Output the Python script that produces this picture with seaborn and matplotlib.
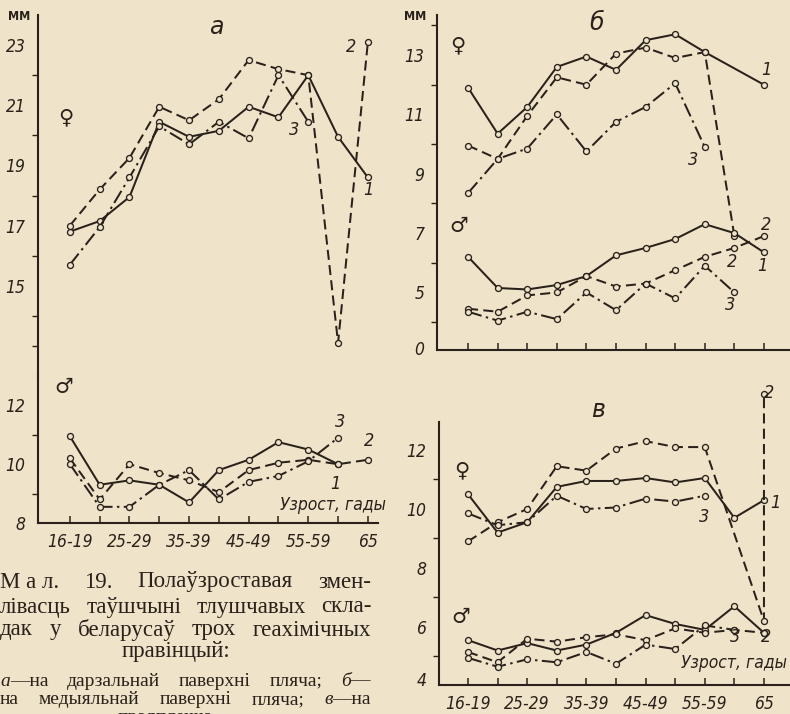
import numpy as np
import pandas as pd
import matplotlib
matplotlib.use("Agg")
import matplotlib.pyplot as plt
from matplotlib.font_manager import FontProperties
import seaborn as sns

# ---------------- data ----------------
AGES = ["16-19", "20-24", "25-29", "30-34", "35-39", "40-44",
        "45-49", "50-54", "55-59", "60-64", "65"]
XTICK_LABELS = ["16-19", "", "25-29", "", "35-39", "", "45-49", "", "55-59", "", "65"]

# panel a (dorsal surface of shoulder)
a_f1 = [16.8, 17.15, 17.95, 20.45, 19.95, 20.15, 20.95, 20.6, 22.0, 19.95, 18.6]
a_f2 = [17.0, 18.2, 19.25, 20.95, 20.5, 21.2, 22.5, 22.2, 22.0, 13.1, 23.1]
a_f3 = [15.7, 16.95, 18.6, 20.3, 19.7, 20.45, 19.9, 22.0, 20.45, None, None]
a_m1 = [10.95, 9.3, 9.45, 9.3, 8.7, 9.8, 10.15, 10.75, 10.5, 10.0, None]
a_m2 = [10.2, 8.8, 10.0, 9.7, 9.45, 9.05, 9.8, 10.05, 10.15, 10.0, 10.15]
a_m3 = [10.0, 8.55, 8.55, 9.3, 9.8, 8.8, 9.4, 9.6, 10.1, 10.9, None]

# panel b (medial surface of shoulder)
b_f1 = [11.9, 10.35, 11.25, 12.6, 12.95, 12.5, 13.5, 13.7, 13.1, None, 12.0]
b_f2 = [9.95, 9.5, 10.95, 12.25, 12.0, 13.05, 13.25, 12.9, 13.1, 6.9, None]
b_f3 = [8.35, 9.5, 9.85, 11.0, 9.75, 10.75, 11.25, 12.05, 9.9, None, None]
b_m1 = [6.2, 5.15, 5.1, 5.25, 5.55, 6.25, 6.5, 6.8, 7.3, 7.0, 6.35]
b_m2 = [4.45, 4.35, 4.9, 5.0, 5.55, 5.2, 5.3, 5.75, 6.2, 6.5, 6.9]
b_m3 = [4.35, 4.05, 4.35, 4.1, 5.0, 4.4, 5.3, 4.8, 5.9, 5.0, None]

# panel v (forearm)
v_f1 = [10.5, 9.2, 9.55, 10.75, 10.95, 10.95, 11.05, 10.9, 11.05, 9.7, 10.3]
v_f2_ages = ["16-19", "20-24", "25-29", "30-34", "35-39", "40-44",
             "45-49", "50-54", "55-59", "65", "65"]
v_f2 = [8.9, 9.55, 10.0, 11.45, 11.3, 12.05, 12.3, 12.1, 12.1, 6.2, 13.9]
v_f3 = [9.85, 9.45, 9.55, 10.45, 10.0, 10.05, 10.35, 10.25, 10.45, None, None]
v_m1 = [5.55, 5.2, 5.45, 5.2, 5.4, 5.8, 6.4, 6.1, 5.9, 6.7, 5.8]
v_m2 = [5.15, 4.8, 5.6, 5.5, 5.65, 5.75, 5.55, 5.95, 5.8, 5.9, 5.8]
v_m3 = [4.95, 4.65, 4.9, 4.8, 5.15, 4.75, 5.4, 5.25, 6.05, 5.9, None]

# ---------------- style ----------------
BG = "#EFE4CA"
INK = "#2A211B"
W, H = 790, 714

sns.set_theme(style="white")
plt.rcParams["font.family"] = ["DejaVu Sans"]
plt.rcParams["axes.facecolor"] = "none"
plt.rcParams["figure.facecolor"] = BG

STYLES = {1: "-", 2: (0, (5, 2.6)), 3: (0, (7, 2.2, 1.2, 2.2))}
TICKFONT = dict(family="DejaVu Sans", style="italic", stretch="condensed", size=12.5)
LABFONT = dict(family="DejaVu Sans", style="italic", stretch="condensed", size=13, color=INK)

fig = plt.figure(figsize=(W / 100, H / 100), dpi=100)


def px_axes(left, top, right, bottom):
    return fig.add_axes([left / W, 1 - bottom / H, (right - left) / W, (bottom - top) / H])


def ftxt(x, y, s, **kw):
    kw.setdefault("ha", "center")
    kw.setdefault("va", "center")
    kw.setdefault("color", INK)
    return fig.text(x / W, 1 - y / H, s, **kw)


def draw(ax, ages, values, kind):
    pos = {a: i for i, a in enumerate(AGES)}
    df = pd.DataFrame({"x": [pos[a] for a in ages], "y": values}).dropna()
    sns.lineplot(data=df, x="x", y="y", ax=ax, estimator=None, sort=False,
                 color=INK, linewidth=1.45, linestyle=STYLES[kind],
                 marker="o", markersize=4.3, markerfacecolor=BG,
                 markeredgecolor=INK, markeredgewidth=0.95, clip_on=False,
                 legend=False)


def style_axes(ax, show_bottom=True):
    ax.spines["right"].set_visible(False)
    ax.spines["top"].set_visible(False)
    ax.spines["bottom"].set_visible(show_bottom)
    for s in ["left", "bottom"]:
        ax.spines[s].set_color(INK)
        ax.spines[s].set_linewidth(1.5)
    ax.set_xlabel("")
    ax.set_ylabel("")
    ax.tick_params(axis="y", which="major", direction="out", length=6, width=1.2,
                   color=INK, pad=3, labelcolor=INK)
    ax.tick_params(axis="y", which="minor", direction="out", length=4, width=1.0,
                   color=INK, left=True)
    for t in ax.get_yticklabels():
        t.set_fontproperties(FontProperties(**TICKFONT))


def set_x(ax, labels=True):
    ax.set_xticks(range(len(AGES)))
    if labels:
        ax.set_xticklabels(XTICK_LABELS)
        for t in ax.get_xticklabels():
            t.set_fontproperties(FontProperties(**TICKFONT))
    else:
        ax.set_xticklabels([])
    ax.tick_params(axis="x", direction="in", length=5, width=1.1, color=INK,
                   pad=7, labelcolor=INK, bottom=True)


# ---------------- panel a (broken axis) ----------------
ax_au = px_axes(38, 15, 378, 376)
ax_al = px_axes(38, 376, 378, 523)
for ax in (ax_au, ax_al):
    ax.set_xlim(-1.07, 10.34)
draw(ax_au, AGES, a_f1, 1)
draw(ax_au, AGES, a_f2, 2)
draw(ax_au, AGES, a_f3, 3)
draw(ax_al, AGES, a_m1, 1)
draw(ax_al, AGES, a_m2, 2)
draw(ax_al, AGES, a_m3, 3)
ax_au.set_ylim(12.0, 24.0)
ax_au.set_yticks([15, 17, 19, 21, 23])
ax_au.set_yticks([13, 14, 16, 18, 20, 22], minor=True)
ax_au.set_xticks([])
ax_al.set_ylim(8.0, 13.0)
ax_al.set_yticks([8, 10, 12])
ax_al.set_yticks([9, 11], minor=True)
style_axes(ax_au, show_bottom=False)
style_axes(ax_al)
set_x(ax_al)

# ---------------- panel b ----------------
ax_b = px_axes(437, 15, 790, 350)
ax_b.set_xlim(-1.05, 10.88)
for vals, k in ((b_f1, 1), (b_f2, 2), (b_f3, 3), (b_m1, 1), (b_m2, 2), (b_m3, 3)):
    draw(ax_b, AGES, vals, k)
ax_b.set_ylim(3.06, 14.35)
ax_b.set_yticks([3.12, 5, 7, 9, 11, 13])
ax_b.set_yticklabels(["0", "5", "7", "9", "11", "13"])
ax_b.set_yticks([4, 6, 8, 10, 12, 14], minor=True)
style_axes(ax_b)
set_x(ax_b, labels=False)

# ---------------- panel v ----------------
ax_v = px_axes(439, 422, 790, 685)
ax_v.set_xlim(-0.98, 10.88)
draw(ax_v, AGES, v_f1, 1)
draw(ax_v, v_f2_ages, v_f2, 2)
draw(ax_v, AGES, v_f3, 3)
draw(ax_v, AGES, v_m1, 1)
draw(ax_v, AGES, v_m2, 2)
draw(ax_v, AGES, v_m3, 3)
ax_v.set_ylim(4.03, 12.95)
ax_v.set_yticks([4.25, 6, 8, 10, 12])
ax_v.set_yticklabels(["4", "6", "8", "10", "12"])
ax_v.set_yticks([5, 7, 9, 11], minor=True)
style_axes(ax_v)
set_x(ax_v)

# ---------------- annotations ----------------
mm = dict(family="DejaVu Sans", stretch="condensed", size=9, weight="bold")
ftxt(19, 17, "ММ", **mm)
ftxt(415, 17, "ММ", **mm)

pan = dict(family="DejaVu Sans", style="italic", size=17)
ftxt(216, 27, "а", **pan)
ftxt(597, 23, "б", **pan)
ftxt(598, 410, "в", **pan)

sym = dict(family="DejaVu Sans", size=15)
ftxt(66, 117, "♀", **sym)
ftxt(64, 387, "♂", **sym)
ftxt(458, 45, "♀", **sym)
ftxt(459, 226, "♂", **sym)
ftxt(462, 470, "♀", **sym)
ftxt(461, 617, "♂", **sym)

axis_lab = dict(family="DejaVu Sans", style="italic", stretch="condensed", size=12.5)
ftxt(333, 505, "Узрост, гады", **axis_lab)
ftxt(734, 663, "Узрост, гады", **axis_lab)

# series numbers
for (x, y, s) in [(351, 47, "2"), (368, 190, "1"), (294, 130, "3"),
                  (340, 422, "3"), (369, 441, "2"), (335, 484, "1"),
                  (766, 70, "1"), (693, 160, "3"), (766, 225, "2"),
                  (732, 262, "2"), (762, 266, "1"), (730, 305, "3"),
                  (769, 393, "2"), (775, 503, "1"), (704, 517, "3"),
                  (735, 637, "3"), (766, 637, "2")]:
    ftxt(x, y, s, **LABFONT)

# ---------------- caption (justified) ----------------
renderer = fig.canvas.get_renderer()


def justify(words, x0, x1, y, size, family="Liberation Serif"):
    """words: list of words; each word is a list of (text, italic) segments."""
    objs = []
    widths = []
    for word in words:
        segs = []
        wsum = 0.0
        for text, ital in word:
            t = ftxt(0, y, text, family=family, size=size,
                     style="italic" if ital else "normal", ha="left")
            w = t.get_window_extent(renderer).width
            segs.append((t, w))
            wsum += w
        objs.append(segs)
        widths.append(wsum)
    gap = (x1 - x0 - sum(widths)) / max(len(words) - 1, 1)
    x = x0
    for segs, wsum in zip(objs, widths):
        xx = x
        for t, w in segs:
            t.set_x(xx / W)
            xx += w
        x += wsum + gap


def plain(*ws):
    return [[(w, False)] for w in ws]


CAP = 16.5
justify(plain("М а л.", "19.", "Полаўзроставая", "змен-"), 0, 371, 582, CAP)
justify(plain("лівасць", "таўшчыні", "тлушчавых", "скла-"), 0, 372, 607, CAP)
justify(plain("дак", "у", "беларусаў", "трох", "геахімічных"), 0, 371, 630, CAP)
ftxt(176, 651, "правінцый:", family="Liberation Serif", size=CAP)
SM = 14
justify([[("а", True), ("—на", False)]] + plain("дарзальнай", "паверхні", "пляча;")
        + [[("б", True), ("—", False)]], 0, 370, 681, SM)
justify(plain("на", "медыяльнай", "паверхні", "пляча;") + [[("в", True), ("—на", False)]],
        0, 371, 700, SM)
ftxt(165, 717, "прадплечча", family="Liberation Serif", size=SM)

fig.savefig("out.png", dpi=100, facecolor=BG)
